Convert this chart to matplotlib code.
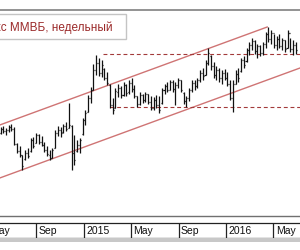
import matplotlib
matplotlib.use('Agg')
import matplotlib.pyplot as plt
import matplotlib.dates as mdates
import matplotlib.transforms as mtransforms
from matplotlib.patches import Rectangle
import pandas as pd
import numpy as np

plt.rcParams['font.family'] = ['Liberation Sans', 'DejaVu Sans']

title = "Индекс ММВБ, недельный"
week_start = "2014-06-02"

highs = [1572, 1576, 1568, 1580, 1584, 1572, 1508, 1496, 1460, 1480,
         1488, 1528, 1532, 1548, 1544, 1536, 1512, 1496, 1480, 1488,
         1560, 1576, 1572, 1584, 1592, 1668, 1580, 1540, 1520, 1528,
         1608, 1640, 1700, 1732, 1824, 1862, 1848, 1840, 1808, 1792,
         1744, 1688, 1728, 1744, 1736, 1752, 1744, 1760, 1768, 1740,
         1696, 1712, 1704, 1712, 1704, 1696, 1692, 1700, 1696, 1728,
         1744, 1752, 1760, 1760, 1752, 1768, 1760, 1712, 1696, 1728,
         1760, 1760, 1768, 1800, 1808, 1840, 1888, 1860, 1832, 1816,
         1808, 1800, 1804, 1792, 1760, 1760, 1800, 1808, 1848, 1856,
         1888, 1912, 1928, 1920, 1904, 1900, 1912, 1952, 1972, 1960,
         1944, 1936, 1944, 1928, 1920, 1960, 1928, 1920, 1912]
lows = [1544, 1548, 1540, 1552, 1556, 1500, 1468, 1452, 1400, 1440,
        1448, 1472, 1488, 1508, 1504, 1496, 1472, 1456, 1440, 1448,
        1488, 1536, 1532, 1548, 1556, 1568, 1400, 1420, 1472, 1468,
        1540, 1580, 1632, 1668, 1720, 1780, 1776, 1772, 1760, 1740,
        1648, 1624, 1648, 1692, 1688, 1696, 1696, 1704, 1712, 1688,
        1652, 1660, 1668, 1672, 1664, 1640, 1640, 1648, 1628, 1664,
        1704, 1712, 1720, 1712, 1660, 1728, 1712, 1664, 1652, 1676,
        1712, 1720, 1728, 1752, 1760, 1780, 1820, 1800, 1768, 1760,
        1752, 1744, 1760, 1736, 1680, 1632, 1744, 1752, 1792, 1808,
        1832, 1860, 1880, 1864, 1848, 1856, 1860, 1888, 1912, 1904,
        1888, 1880, 1888, 1880, 1872, 1888, 1872, 1860, 1864]
opens = [1550, 1565, 1555, 1560, 1572, 1566, 1505, 1478, 1460, 1445,
         1470, 1476, 1520, 1510, 1540, 1512, 1500, 1480, 1462, 1450,
         1488, 1550, 1560, 1552, 1576, 1570, 1575, 1470, 1478, 1500,
         1545, 1600, 1632, 1690, 1720, 1800, 1830, 1790, 1805, 1770,
         1740, 1660, 1650, 1712, 1730, 1700, 1740, 1712, 1750, 1725,
         1695, 1665, 1700, 1680, 1705, 1672, 1650, 1680, 1660, 1668,
         1720, 1735, 1720, 1752, 1725, 1740, 1760, 1710, 1675, 1690,
         1720, 1750, 1735, 1760, 1790, 1782, 1830, 1855, 1815, 1780,
         1800, 1770, 1790, 1770, 1745, 1690, 1745, 1785, 1795, 1840,
         1835, 1880, 1900, 1915, 1875, 1895, 1870, 1905, 1945, 1925,
         1950, 1900, 1925, 1895, 1920, 1890, 1950, 1885, 1900]
closes = [1565, 1555, 1560, 1572, 1566, 1505, 1478, 1460, 1418, 1470,
          1455, 1520, 1495, 1540, 1512, 1500, 1480, 1465, 1448, 1482,
          1550, 1560, 1548, 1576, 1566, 1580, 1470, 1440, 1500, 1520,
          1600, 1630, 1690, 1720, 1800, 1830, 1790, 1820, 1770, 1750,
          1660, 1640, 1715, 1730, 1700, 1742, 1710, 1750, 1725, 1695,
          1665, 1700, 1680, 1705, 1672, 1650, 1680, 1660, 1640, 1720,
          1735, 1720, 1752, 1725, 1740, 1760, 1720, 1675, 1690, 1720,
          1750, 1735, 1760, 1790, 1775, 1830, 1870, 1815, 1780, 1800,
          1770, 1790, 1770, 1745, 1690, 1745, 1785, 1770, 1840, 1820,
          1880, 1900, 1915, 1875, 1895, 1870, 1905, 1945, 1925, 1950,
          1900, 1925, 1895, 1920, 1885, 1950, 1885, 1900, 1880]

channel_upper_dates = ["2014-05-31", "2016-04-15"]
channel_upper_vals = [1580, 1972]
channel_lower_dates = ["2014-05-31", "2016-07-08"]
channel_lower_vals = [1368, 1808]
resist_start = "2015-02-20"
resist_level = 1866
support_start = "2015-03-10"
support_level = 1654

tick_dates = ["2014-05-01", "2014-09-01", "2015-01-01", "2015-05-01",
              "2015-09-01", "2016-01-01", "2016-05-01"]
tick_labels = ["May", "Sep", "2015", "May", "Sep", "2016", "May"]

x_start = "2014-05-31 16:00"
x_end = "2016-07-08"

def dn(s):
    return mdates.date2num(pd.to_datetime(s).to_pydatetime())

dates = pd.date_range(week_start, periods=len(highs), freq='7D')
xd = mdates.date2num(dates.to_pydatetime())
xlim = (dn(x_start), dn(x_end))

fig = plt.figure(figsize=(3, 2.5), dpi=100)
fig.patch.set_facecolor('white')

ax = fig.add_axes([0, 34 / 250, 1, 206 / 250])
ax.set_xlim(*xlim)
ax.set_ylim(1216, 2040)
ax.set_xticks([])
ax.set_yticks([])
for s in ['left', 'right']:
    ax.spines[s].set_visible(False)
ax.spines['top'].set_color('#8a8a8a')
ax.spines['top'].set_linewidth(1.3)
ax.spines['bottom'].set_color('#707070')
ax.spines['bottom'].set_linewidth(1.0)

tw = 2.6
bar_c = '#111111'
ax.vlines(xd, lows, highs, color=bar_c, lw=0.9, zorder=3)
ax.hlines(opens, xd - tw, xd, color=bar_c, lw=0.9, zorder=3)
ax.hlines(closes, xd, xd + tw, color=bar_c, lw=0.9, zorder=3)

chan_c = '#cf7474'
ax.plot([dn(d) for d in channel_upper_dates], channel_upper_vals, color=chan_c, lw=1.0, zorder=2)
ax.plot([dn(d) for d in channel_lower_dates], channel_lower_vals, color=chan_c, lw=1.0, zorder=2)

dash_c = '#a33a3a'
ax.plot([dn(resist_start), xlim[1]], [resist_level, resist_level], color=dash_c,
        lw=0.8, dashes=(3.5, 2.5), zorder=2)
ax.plot([dn(support_start), xlim[1]], [support_level, support_level], color=dash_c,
        lw=0.8, dashes=(3.5, 2.5), zorder=2)

# label row
lax = fig.add_axes([0, 12 / 250, 1, 15 / 250])
lax.set_xlim(*xlim)
lax.set_ylim(0, 1)
lax.set_xticks([])
lax.set_yticks([])
for s in ['left', 'right']:
    lax.spines[s].set_visible(False)
for s in ['top', 'bottom']:
    lax.spines[s].set_color('#222222')
    lax.spines[s].set_linewidth(0.9)
trans = mtransforms.offset_copy(lax.get_xaxis_transform(), fig=fig, x=2.5, y=0, units='dots')
for d, lab in zip(tick_dates, tick_labels):
    lax.axvline(dn(d), color='#222222', lw=0.9)
    lax.text(dn(d), 0.47, lab, transform=trans, ha='left', va='center',
             fontsize=7.5, color='#111111')

# shadow under label row
fig.add_artist(Rectangle((0, 8 / 250), 1, 4 / 250, transform=fig.transFigure,
                         facecolor='#c8c8c8', edgecolor='none', zorder=1))

# title box
fig.add_artist(Rectangle((-0.02, 1 - 39 / 250), 0.02 + 126 / 300, 25 / 250,
                         transform=fig.transFigure, facecolor='white',
                         edgecolor='#c4c4c4', lw=1.0, zorder=5))
fig.text(113 / 300, 1 - 30.7 / 250, title, ha='right', va='baseline',
         color='#9b2a2a', fontsize=8.5, zorder=6)

fig.savefig('out.png', dpi=100, facecolor='white')
